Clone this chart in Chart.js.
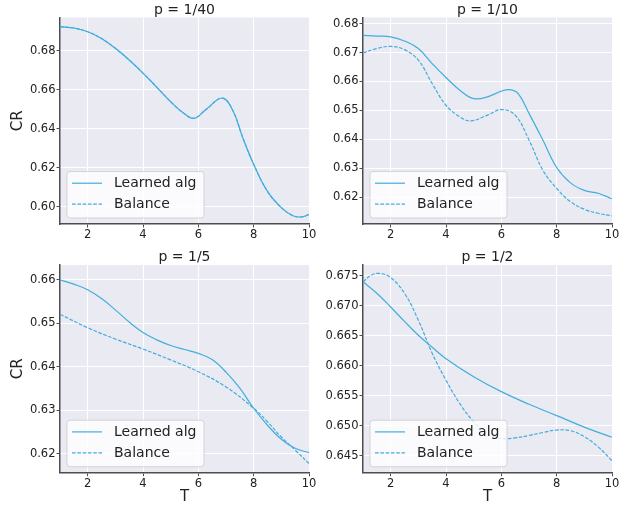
<!DOCTYPE html>
<html><head><meta charset="utf-8">
<script src="https://cdn.jsdelivr.net/npm/chart.js@4.4.1/dist/chart.umd.min.js"></script>
<style>
html,body{margin:0;padding:0;background:#fff;}
#wrap{position:relative;width:630px;height:505px;}
canvas{position:absolute;left:0;top:0;}
</style>
</head><body>
<div id="wrap">
<canvas id="c1" width="630" height="505"></canvas>
<canvas id="c2" width="630" height="505"></canvas>
<canvas id="c3" width="630" height="505"></canvas>
<canvas id="c4" width="630" height="505"></canvas>
</div>
<script>
// ---- data ----
const seriesNames = ['Learned alg', 'Balance'];
const titles = ['p = 1/40', 'p = 1/10', 'p = 1/5', 'p = 1/2'];
const xTicks = [2, 4, 6, 8, 10];

const yTicks40 = [0.60, 0.62, 0.64, 0.66, 0.68];
const yTicks10 = [0.62, 0.63, 0.64, 0.65, 0.66, 0.67, 0.68];
const yTicks5  = [0.62, 0.63, 0.64, 0.65, 0.66];
const yTicks2  = [0.645, 0.650, 0.655, 0.660, 0.665, 0.670, 0.675];

// p = 1/40 (both curves coincide)
const T40 = [1, 1.5, 2, 2.5, 3, 3.5, 4, 4.5, 5, 5.5, 5.85, 6.3, 6.87, 7.25, 7.6, 8, 8.5, 9, 9.4, 9.7, 10];
const learned40 = [0.6923, 0.6916, 0.6897, 0.6862, 0.6812, 0.6752, 0.6685, 0.6612, 0.6538, 0.6476, 0.6453, 0.6501, 0.6557, 0.6492, 0.6356, 0.6217, 0.6078, 0.5995, 0.5955, 0.5947, 0.5959];
const balance40 = [0.6923, 0.6916, 0.6897, 0.6862, 0.6812, 0.6752, 0.6685, 0.6612, 0.6538, 0.6476, 0.6453, 0.6501, 0.6557, 0.6492, 0.6356, 0.6217, 0.6078, 0.5995, 0.5955, 0.5947, 0.5959];

// p = 1/10
const T10L = [1, 1.5, 2, 2.5, 3, 3.5, 4, 4.5, 5, 5.5, 6, 6.3, 6.6, 7, 7.5, 8, 8.5, 9, 9.5, 10];
const learned10 = [0.6759, 0.6757, 0.6754, 0.6740, 0.6714, 0.6662, 0.6614, 0.6570, 0.6541, 0.6547, 0.6567, 0.6572, 0.6559, 0.6490, 0.6398, 0.6303, 0.6250, 0.6224, 0.6214, 0.6195];
const T10B = [1, 1.5, 2, 2.5, 3, 3.5, 4, 4.5, 4.9, 5.5, 6, 6.5, 7, 7.5, 8, 8.5, 9, 9.5, 10];
const balance10 = [0.6699, 0.6714, 0.6721, 0.6710, 0.6674, 0.6593, 0.6518, 0.6478, 0.6464, 0.6484, 0.6503, 0.6484, 0.6398, 0.6294, 0.6231, 0.6185, 0.6159, 0.6145, 0.6136];

// p = 1/5
const T5L = [1, 1.5, 2, 2.5, 3, 3.5, 4, 4.5, 5, 5.5, 6, 6.5, 7, 7.5, 8, 8.5, 9, 9.5, 10];
const learned5 = [0.6600, 0.6590, 0.6577, 0.6557, 0.6531, 0.6503, 0.6479, 0.6462, 0.6449, 0.6440, 0.6431, 0.6417, 0.6388, 0.6351, 0.6305, 0.6266, 0.6234, 0.6213, 0.6203];
const T5B = [1, 2, 3, 4, 5, 6, 7, 8, 8.5, 9, 9.5, 10];
const balance5 = [0.6521, 0.6490, 0.6464, 0.6441, 0.6416, 0.6389, 0.6354, 0.6305, 0.6274, 0.6239, 0.6209, 0.6178];

// p = 1/2
const T2L = [1, 1.5, 2, 2.5, 3, 3.5, 4, 5, 6, 7, 8, 9, 10];
const learned2 = [0.6740, 0.6721, 0.6698, 0.6674, 0.6651, 0.6631, 0.6612, 0.6582, 0.6557, 0.6536, 0.6517, 0.6498, 0.6481];
const T2B = [1, 1.3, 1.6, 2, 2.5, 3, 3.5, 4, 4.5, 5, 5.5, 6, 6.5, 7, 7.5, 8, 8.5, 9, 9.5, 10];
const balance2 = [0.6740, 0.6751, 0.6754, 0.6747, 0.6721, 0.6676, 0.6621, 0.6576, 0.6537, 0.6507, 0.6487, 0.6479, 0.6480, 0.6484, 0.6489, 0.6493, 0.6492, 0.6482, 0.6465, 0.6442];

// ---- styling ----
const LINE = '#41aedd';
const TEXT = '#222222';
const SPINE = '#4d4d4d';
const FONT = 'DejaVu Sans';
Chart.defaults.font.family = FONT;
Chart.defaults.color = TEXT;

const pts = (xs, ys) => xs.map((x, i) => ({x: x, y: ys[i]}));

const bgPlugin = {
  id: 'bg',
  beforeDraw(chart) {
    const a = chart.chartArea, c = chart.ctx;
    c.save(); c.fillStyle = '#eaeaf2';
    c.fillRect(a.left, a.top, a.right - a.left, a.bottom - a.top);
    c.restore();
  }
};
const decoPlugin = {
  id: 'deco',
  afterDraw(chart) {
    const a = chart.chartArea, c = chart.ctx;
    const o = chart.options.plugins.deco;
    c.save();
    // title
    c.fillStyle = TEXT; c.font = '14px "' + FONT + '"';
    c.textAlign = 'center'; c.textBaseline = 'alphabetic';
    c.fillText(o.title, (a.left + a.right) / 2, a.top - 4);
    // legend
    const bw = 137, bh = 46.5;
    const bx = a.left + 7, by = a.bottom - 6 - bh;
    c.beginPath();
    c.roundRect(bx, by, bw, bh, 3);
    c.fillStyle = 'rgba(255,255,255,0.8)'; c.fill();
    c.strokeStyle = 'rgba(204,204,204,0.8)'; c.lineWidth = 1; c.stroke();
    chart.data.datasets.forEach((ds, i) => {
      const y = by + 11.7 + i * 21;
      c.beginPath();
      c.setLineDash(ds.borderDash || []);
      c.strokeStyle = ds.borderColor; c.lineWidth = ds.borderWidth;
      c.moveTo(bx + 5, y); c.lineTo(bx + 35, y); c.stroke();
      c.setLineDash([]);
      c.fillStyle = TEXT; c.font = '14px "' + FONT + '"';
      c.textAlign = 'left'; c.textBaseline = 'middle';
      c.fillText(ds.label, bx + 47, y + 0.5);
    });
    c.restore();
  }
};

function makeChart(id, cfg) {
  const isLeft = cfg.left < 100;
  const isBottom = cfg.bottom > 300;
  const yW = isLeft ? 60 : 50;
  const xH = isBottom ? 505 - cfg.bottom : 30;
  new Chart(document.getElementById(id), {
    type: 'line',
    data: {
      datasets: [
        {label: seriesNames[0], data: pts(cfg.tL, cfg.yL), borderColor: LINE, borderWidth: 1.2,
         pointRadius: 0, tension: 0.4, fill: false},
        {label: seriesNames[1], data: pts(cfg.tB, cfg.yB), borderColor: LINE, borderWidth: 1.2,
         borderDash: [3.7, 1.6], pointRadius: 0, tension: 0.4, fill: false}
      ]
    },
    options: {
      responsive: false, animation: false, events: [],
      devicePixelRatio: 1,
      layout: {padding: {left: cfg.left - yW, right: 630 - cfg.right, top: cfg.top, bottom: 505 - cfg.bottom - xH}},
      plugins: {legend: {display: false}, tooltip: {enabled: false}, title: {display: false},
                deco: {title: cfg.title}},
      scales: {
        x: {
          type: 'linear', min: 1, max: 10,
          afterBuildTicks: s => { s.ticks = xTicks.map(v => ({value: v})); },
          afterFit: s => { s.height = xH; },
          ticks: {padding: 1, font: {size: 11.5}, color: TEXT, maxRotation: 0, callback: v => String(v)},
          grid: {color: '#ffffff', lineWidth: 1, drawTicks: true, tickLength: 3.5, tickColor: SPINE, tickWidth: 1},
          border: {display: true, color: SPINE, width: 1.5},
          title: {display: isBottom, text: 'T', color: TEXT, font: {size: 15, lineHeight: 1}, padding: {top: 0, bottom: 0}}
        },
        y: {
          type: 'linear', min: cfg.ymin, max: cfg.ymax,
          afterBuildTicks: s => { s.ticks = cfg.yTicks.map(v => ({value: v})); },
          afterFit: s => { s.width = yW; },
          ticks: {padding: 1, font: {size: 11.5}, color: TEXT, callback: v => v.toFixed(cfg.dec)},
          grid: {color: '#ffffff', lineWidth: 1, drawTicks: true, tickLength: 3.5, tickColor: SPINE, tickWidth: 1},
          border: {display: true, color: SPINE, width: 1.5},
          title: {display: isLeft, text: 'CR', color: TEXT, font: {size: 15}, padding: {top: 9.5, bottom: 0}}
        }
      }
    },
    plugins: [bgPlugin, decoPlugin]
  });
}

makeChart('c1', {title: titles[0], left: 60, right: 309, top: 17.5, bottom: 224, ymin: 0.5911, ymax: 0.6970,
  yTicks: yTicks40, dec: 2, tL: T40, yL: learned40, tB: T40, yB: balance40});
makeChart('c2', {title: titles[1], left: 363, right: 612, top: 17.5, bottom: 224, ymin: 0.6108, ymax: 0.6821,
  yTicks: yTicks10, dec: 2, tL: T10L, yL: learned10, tB: T10B, yB: balance10});
makeChart('c3', {title: titles[2], left: 60, right: 309, top: 265, bottom: 472.7, ymin: 0.6157, ymax: 0.6634,
  yTicks: yTicks5, dec: 2, tL: T5L, yL: learned5, tB: T5B, yB: balance5});
makeChart('c4', {title: titles[3], left: 363, right: 612, top: 265, bottom: 472.7, ymin: 0.6422, ymax: 0.6768,
  yTicks: yTicks2, dec: 3, tL: T2L, yL: learned2, tB: T2B, yB: balance2});
</script>
</body></html>
